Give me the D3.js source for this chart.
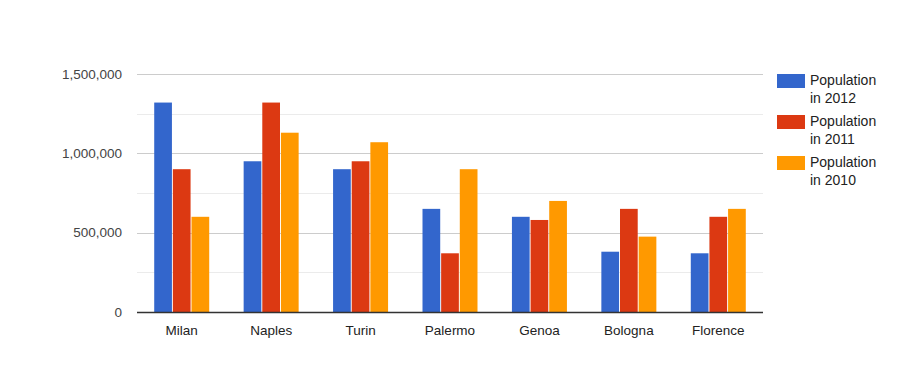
<!DOCTYPE html>
<html>
<head>
<meta charset="utf-8">
<script src="https://cdn.jsdelivr.net/npm/d3@7"></script>
<style>
  body { margin: 0; background: #fff; }
  svg { display: block; font-family: "Liberation Sans", Arial, sans-serif; }
</style>
</head>
<body>
<svg id="chart" width="900" height="387"></svg>
<script>
var cities = ['Milan', 'Naples', 'Turin', 'Palermo', 'Genoa', 'Bologna', 'Florence'];
var seriesNames = ['Population in 2012', 'Population in 2011', 'Population in 2010'];
var pop2012 = [1320000, 950000, 900000, 650000, 600000, 380000, 370000];
var pop2011 = [900000, 1320000, 950000, 370000, 580000, 650000, 600000];
var pop2010 = [600000, 1130000, 1070000, 900000, 700000, 475000, 650000];
var colors = ['#3366cc', '#dc3912', '#ff9900'];
var majorTicks = [0, 500000, 1000000, 1500000];
var minorTicks = [250000, 750000, 1250000];

var seriesValues = [pop2012, pop2011, pop2010];
var rows = cities.map(function(city, i) {
  return { city: city, values: seriesValues.map(function(s) { return s[i]; }) };
});

var svg = d3.select('#chart');
var plotLeft = 137, plotRight = 763, plotTop = 74, plotBottom = 312;
var fontFamily = '"Liberation Sans", Arial, sans-serif';

var x = d3.scaleBand()
  .domain(cities)
  .range([plotLeft, plotRight])
  .paddingInner(0.385)
  .paddingOuter(0.1925);

var xInner = d3.scaleBand()
  .domain(d3.range(seriesNames.length))
  .range([0, x.bandwidth()])
  .paddingInner(0.05);

var y = d3.scaleLinear()
  .domain([0, 1500000])
  .range([plotBottom, plotTop]);

// gridlines
svg.append('g')
  .selectAll('line')
  .data(minorTicks)
  .join('line')
  .attr('x1', plotLeft).attr('x2', plotRight)
  .attr('y1', function(d) { return Math.round(y(d)) + 0.5; })
  .attr('y2', function(d) { return Math.round(y(d)) + 0.5; })
  .attr('stroke', '#ebebeb');

svg.append('g')
  .selectAll('line')
  .data(majorTicks.filter(function(d) { return d > 0; }))
  .join('line')
  .attr('x1', plotLeft).attr('x2', plotRight)
  .attr('y1', function(d) { return Math.round(y(d)) + 0.5; })
  .attr('y2', function(d) { return Math.round(y(d)) + 0.5; })
  .attr('stroke', '#cccccc');

// y axis labels
var yAxis = d3.axisLeft(y)
  .tickValues(majorTicks)
  .tickFormat(d3.format(','))
  .tickSize(0)
  .tickPadding(15);

svg.append('g')
  .attr('transform', 'translate(' + plotLeft + ',0)')
  .call(yAxis)
  .call(function(g) { g.select('.domain').remove(); })
  .selectAll('text')
  .attr('font-size', 13.5)
  .attr('font-family', fontFamily)
  .attr('fill', '#444');

// bars
var groups = svg.append('g')
  .selectAll('g')
  .data(rows)
  .join('g')
  .attr('transform', function(d) { return 'translate(' + x(d.city) + ',0)'; });

groups.selectAll('rect')
  .data(function(d) { return d.values; })
  .join('rect')
  .attr('x', function(d, i) { return xInner(i); })
  .attr('y', function(d) { return y(d); })
  .attr('width', xInner.bandwidth())
  .attr('height', function(d) { return y(0) - y(d); })
  .attr('fill', function(d, i) { return colors[i]; });

// baseline
svg.append('line')
  .attr('x1', plotLeft).attr('x2', plotRight)
  .attr('y1', plotBottom + 0.5).attr('y2', plotBottom + 0.5)
  .attr('stroke', '#333')
  .attr('stroke-width', 1.5);

// x axis labels
var xAxis = d3.axisBottom(x).tickSize(0).tickPadding(13);
svg.append('g')
  .attr('transform', 'translate(0,' + plotBottom + ')')
  .call(xAxis)
  .call(function(g) { g.select('.domain').remove(); })
  .selectAll('text')
  .attr('font-size', 13.5)
  .attr('font-family', fontFamily)
  .attr('fill', '#222');

// legend
var legend = svg.append('g')
  .attr('transform', 'translate(777,74)');

var items = legend.selectAll('g')
  .data(seriesNames)
  .join('g')
  .attr('transform', function(d, i) { return 'translate(0,' + (i * 41) + ')'; });

items.append('rect')
  .attr('width', 28)
  .attr('height', 14)
  .attr('fill', function(d, i) { return colors[i]; });

items.append('text')
  .attr('x', 33)
  .attr('y', 11)
  .attr('font-size', 14)
  .attr('fill', '#222')
  .selectAll('tspan')
  .data(function(d) { var p = d.split(' '); return [p[0], p.slice(1).join(' ')]; })
  .join('tspan')
  .attr('x', 33)
  .attr('dy', function(d, i) { return i === 0 ? 0 : 18; })
  .text(function(d) { return d; });
</script>
</body>
</html>
